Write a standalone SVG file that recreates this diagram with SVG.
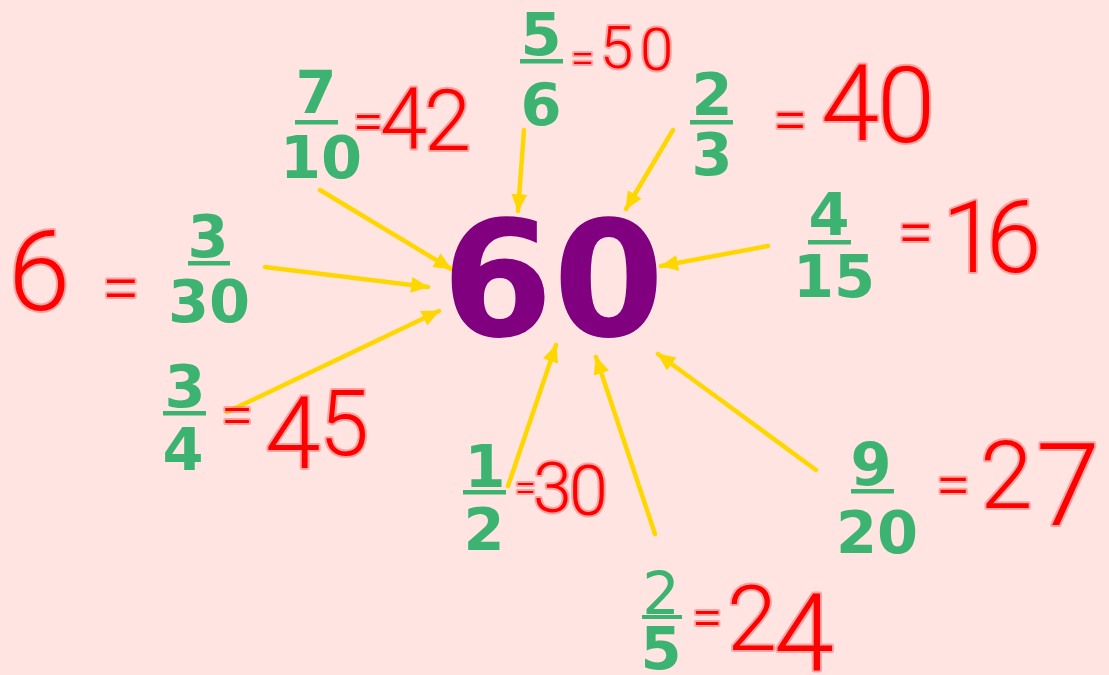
<svg xmlns="http://www.w3.org/2000/svg" width="1109" height="675" viewBox="0 0 1109 675">
<style>
.fr{font-family:"DejaVu Sans","Verdana",sans-serif;font-weight:bold;font-size:59px;fill:#3CB371;text-anchor:middle}
.bar{fill:#3CB371}
.big{font-family:"DejaVu Sans","Verdana",sans-serif;font-weight:bold;font-size:160px;fill:#800080;text-anchor:middle}
.hw{font-family:Roboto,"Liberation Sans",sans-serif;font-weight:300;fill:#FF0000;stroke:#FF6E6E;stroke-opacity:0.55;stroke-width:4;stroke-linejoin:round;paint-order:stroke}
.ar{stroke:#FFD700;stroke-width:4.5;stroke-linecap:round;fill:none;marker-end:url(#ah)}
</style>
<defs>
<marker id="ah" markerUnits="userSpaceOnUse" markerWidth="20" markerHeight="18" refX="17" refY="8" orient="auto" viewBox="0 0 20 16">
<path d="M0,0 L18,8 L0,16 Z" fill="#FFD700"/>
</marker>
</defs>
<rect width="1109" height="675" fill="#FFE4E1"/>

<g id="connectors">
<line class="ar" x1="524" y1="130" x2="518" y2="211"/>
<line class="ar" x1="673" y1="130" x2="626" y2="209"/>
<line class="ar" x1="768" y1="246" x2="661" y2="266"/>
<line class="ar" x1="320" y1="190" x2="451" y2="269"/>
<line class="ar" x1="265" y1="267" x2="428" y2="287"/>
<line class="ar" x1="227" y1="412" x2="439" y2="311"/>
<line class="ar" x1="508" y1="486" x2="556" y2="345"/>
<line class="ar" x1="655" y1="534" x2="596" y2="357"/>
<line class="ar" x1="816" y1="470" x2="658" y2="354"/>
</g>

<g id="center"><text class="big" x="553" y="336">60</text></g>

<g id="f-5-6"><text class="fr" x="541" y="55">5</text><rect class="bar" x="520" y="59" width="43" height="4.5"/><text class="fr" x="541" y="125">6</text></g>
<g id="f-7-10"><text class="fr" x="316" y="113">7</text><rect class="bar" x="295" y="120" width="43" height="4.5"/><text class="fr" x="321" y="178">10</text></g>
<g id="f-2-3"><text class="fr" x="712" y="115">2</text><rect class="bar" x="690" y="120" width="43" height="4.5"/><text class="fr" x="712" y="175">3</text></g>
<g id="f-4-15"><text class="fr" x="829" y="235">4</text><rect class="bar" x="808" y="240" width="43" height="4.5"/><text class="fr" x="834" y="297">15</text></g>
<g id="f-3-30"><text class="fr" x="208" y="257">3</text><rect class="bar" x="188" y="261" width="42" height="4.5"/><text class="fr" x="209" y="322">30</text></g>
<g id="f-3-4"><text class="fr" x="185" y="407">3</text><rect class="bar" x="163" y="411" width="43" height="4.5"/><text class="fr" x="183" y="470">4</text></g>
<g id="f-1-2"><text class="fr" x="485" y="487">1</text><rect class="bar" x="463" y="490" width="43" height="4.5"/><text class="fr" x="484" y="550">2</text></g>
<g id="f-2-5"><text class="fr" x="661" y="614" style="font-weight:normal">2</text><rect class="bar" x="642" y="615" width="40" height="4"/><text class="fr" x="661" y="669">5</text></g>
<g id="f-9-20"><text class="fr" x="871" y="485">9</text><rect class="bar" x="851" y="489" width="43" height="4.5"/><text class="fr" x="877" y="553">20</text></g>

<g id="annotations">
<text class="hw"><tspan x="353" y="140" font-size="55">=</tspan><tspan x="380" y="148" font-size="85">4</tspan><tspan x="424" y="150" font-size="85">2</tspan></text>
<text class="hw"><tspan x="571" y="73" font-size="42">=</tspan><tspan x="600" y="68" font-size="60">5</tspan><tspan x="640" y="70" font-size="60">0</tspan></text>
<text class="hw"><tspan x="773" y="141" font-size="62">=</tspan><tspan x="821" y="140" font-size="105">4</tspan><tspan x="877" y="142" font-size="105">0</tspan></text>
<text class="hw"><tspan x="898" y="254" font-size="64">=</tspan><tspan x="942" y="272" font-size="100">1</tspan><tspan x="986" y="272" font-size="100">6</tspan></text>
<text class="hw"><tspan x="8" y="310" font-size="112">6</tspan><tspan x="102" y="311" font-size="68">=</tspan></text>
<text class="hw"><tspan x="221" y="435" font-size="58">=</tspan><tspan x="265" y="468" font-size="100">4</tspan><tspan x="319" y="455" font-size="90">5</tspan></text>
<text class="hw"><tspan x="515" y="501" font-size="38">=</tspan><tspan x="533" y="512" font-size="70">3</tspan><tspan x="569" y="515" font-size="70">0</tspan></text>
<text class="hw"><tspan x="692" y="636" font-size="55">=</tspan><tspan x="727" y="650" font-size="90">2</tspan><tspan x="774" y="670" font-size="108">4</tspan></text>
<text class="hw"><tspan x="936" y="506" font-size="62">=</tspan><tspan x="980" y="508" font-size="95">2</tspan><tspan x="1036" y="525" font-size="115">7</tspan></text>
</g>
</svg>
